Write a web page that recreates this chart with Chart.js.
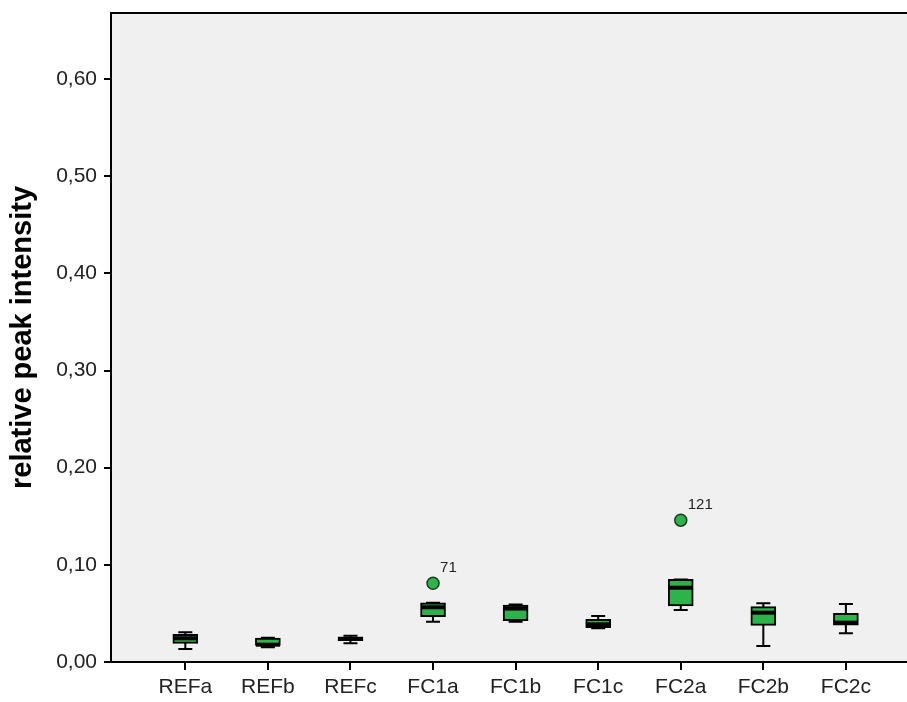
<!DOCTYPE html>
<html lang="en">
<head>
    <meta charset="UTF-8">
    <title>relative peak intensity</title>
    <script src="https://cdn.jsdelivr.net/npm/chart.js"></script>
    <style>
        html, body { margin: 0; padding: 0; background: #fff; overflow: hidden; }
        .chart-box { width: 907px; height: 702px; position: relative; }
        canvas { display: block; }
    </style>
</head>
<body>
    <div class="chart-box"><canvas id="boxChart"></canvas></div>

    <script>
        // Datos
        const categories = ['REFa', 'REFb', 'REFc', 'FC1a', 'FC1b', 'FC1c', 'FC2a', 'FC2b', 'FC2c'];
        const whiskerLow  = [0.0134, 0.0152, 0.0192, 0.0415, 0.0415, 0.0347, 0.0535, 0.0165, 0.0295];
        const q1          = [0.0192, 0.0170, 0.0220, 0.0466, 0.0425, 0.0353, 0.0576, 0.0377, 0.0380];
        const median      = [0.0244, 0.0178, 0.0237, 0.0563, 0.0550, 0.0388, 0.0765, 0.0508, 0.0405];
        const q3          = [0.0285, 0.0245, 0.0260, 0.0610, 0.0585, 0.0440, 0.0850, 0.0570, 0.0500];
        const whiskerHigh = [0.0306, 0.0250, 0.0270, 0.0610, 0.0593, 0.0473, 0.0850, 0.0604, 0.0597];
        const outlierIndex = [3, 6];
        const outlierValue = [0.081, 0.146];
        const outlierCase  = ['71', '121'];
        const yTicks = [0, 0.1, 0.2, 0.3, 0.4, 0.5, 0.6];

        const green = '#2cb44b';

        // no automatic label padding, the plot box is fixed
        const noPad = s => { s.paddingTop = 0; s.paddingBottom = 0; s.paddingLeft = 0; s.paddingRight = 0; };

        // whiskers, median lines, case labels and the top frame
        const boxParts = {
            id: 'boxParts',
            beforeDraw(chart) {
                const a = chart.chartArea, ctx = chart.ctx;
                ctx.save();
                ctx.fillStyle = '#f0f0f0';
                ctx.fillRect(a.left, a.top, a.right - a.left, a.bottom - a.top);
                ctx.restore();
            },
            beforeDatasetsDraw(chart) {
                const x = chart.scales.x, y = chart.scales.y, ctx = chart.ctx;
                ctx.save();
                ctx.strokeStyle = '#000';
                ctx.lineWidth = 2;
                categories.forEach((c, i) => {
                    const px = x.getPixelForValue(i);
                    const lo = y.getPixelForValue(whiskerLow[i]);
                    const hi = y.getPixelForValue(whiskerHigh[i]);
                    ctx.beginPath();
                    ctx.moveTo(px, lo); ctx.lineTo(px, hi);
                    ctx.moveTo(px - 7, lo); ctx.lineTo(px + 7, lo);
                    ctx.moveTo(px - 7, hi); ctx.lineTo(px + 7, hi);
                    ctx.stroke();
                });
                ctx.restore();
            },
            afterDatasetsDraw(chart) {
                const x = chart.scales.x, y = chart.scales.y, ctx = chart.ctx, a = chart.chartArea;
                ctx.save();
                ctx.strokeStyle = '#000';
                ctx.lineWidth = 4;
                categories.forEach((c, i) => {
                    const px = x.getPixelForValue(i);
                    const pm = y.getPixelForValue(median[i]);
                    ctx.beginPath();
                    ctx.moveTo(px - 12, pm); ctx.lineTo(px + 12, pm);
                    ctx.stroke();
                });
                ctx.fillStyle = '#222';
                ctx.font = '15px "Liberation Sans", Arial, sans-serif';
                ctx.textBaseline = 'middle';
                outlierCase.forEach((t, k) => {
                    ctx.fillText(t, x.getPixelForValue(outlierIndex[k]) + 7,
                        y.getPixelForValue(outlierValue[k]) - 15);
                });
                ctx.lineWidth = 2;
                ctx.beginPath();
                ctx.moveTo(a.left, a.top); ctx.lineTo(a.right, a.top);
                ctx.stroke();
                ctx.restore();
            }
        };

        const tickFont = { family: '"Liberation Sans", Arial, sans-serif', size: 21 };

        new Chart(document.getElementById('boxChart'), {
            type: 'bar',
            data: {
                datasets: [{
                    type: 'bar',
                    data: categories.map((c, i) => ({ x: i, y: [q1[i], q3[i]] })),
                    backgroundColor: green,
                    borderColor: '#000',
                    borderWidth: 2,
                    borderSkipped: false,
                    barThickness: 25
                }, {
                    type: 'scatter',
                    data: outlierIndex.map((i, k) => ({ x: i, y: outlierValue[k] })),
                    pointRadius: 6,
                    pointBackgroundColor: green,
                    pointBorderColor: '#1b3d22',
                    pointBorderWidth: 1.5
                }]
            },
            options: {
                responsive: true,
                maintainAspectRatio: false,
                animation: false,
                layout: { autoPadding: false, padding: { top: 13, right: 0, left: 0, bottom: 0 } },
                plugins: { legend: { display: false }, tooltip: { enabled: false } },
                scales: {
                    x: {
                        type: 'linear',
                        offset: false,
                        min: -0.9,
                        max: 8.74,
                        afterBuildTicks: s => { s.ticks = categories.map((c, i) => ({ value: i })); },
                        afterFit: s => { s.height = 40; noPad(s); },
                        grid: { offset: false, drawOnChartArea: false, drawTicks: true, tickLength: 8, color: '#000', lineWidth: 2 },
                        border: { display: true, color: '#000', width: 2 },
                        ticks: {
                            color: '#222',
                            font: tickFont,
                            padding: 5,
                            maxRotation: 0,
                            autoSkip: false,
                            callback: v => categories[v]
                        }
                    },
                    y: {
                        min: 0,
                        max: 0.668,
                        afterBuildTicks: s => { s.ticks = yTicks.map(v => ({ value: v })); },
                        afterFit: s => { s.width = 111; noPad(s); },
                        grid: { drawOnChartArea: false, drawTicks: true, tickLength: 7, color: '#000', lineWidth: 2 },
                        border: { display: true, color: '#000', width: 2 },
                        ticks: {
                            color: '#222',
                            font: tickFont,
                            padding: 7,
                            callback: v => v.toFixed(2).replace('.', ',')
                        },
                        title: {
                            display: true,
                            text: 'relative peak intensity',
                            color: '#000',
                            font: { family: '"Liberation Sans", Arial, sans-serif', size: 29, weight: 'bold' },
                            padding: { top: 6, bottom: 0 }
                        }
                    }
                }
            },
            plugins: [boxParts]
        });
    </script>
</body>
</html>
